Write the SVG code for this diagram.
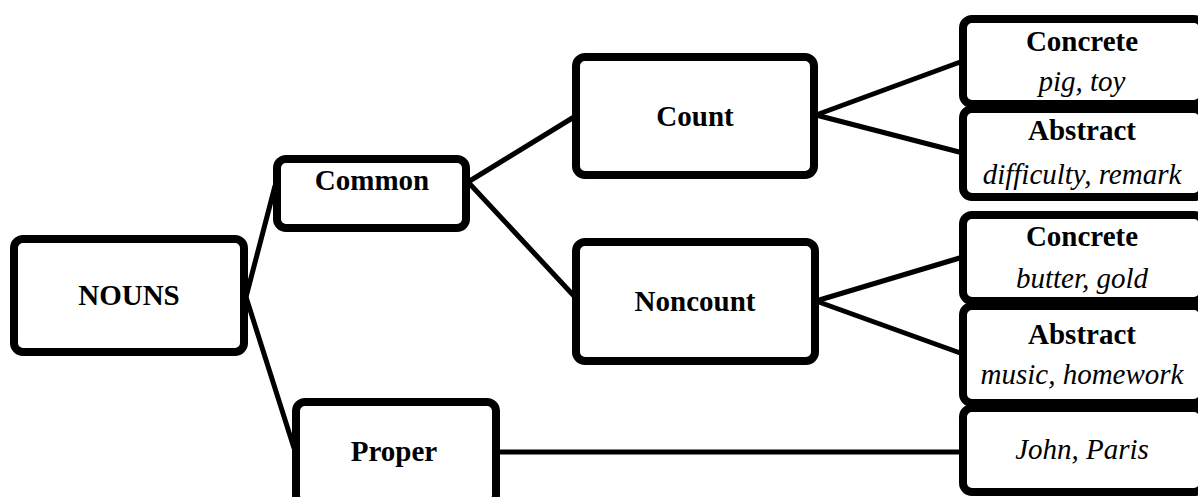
<svg xmlns="http://www.w3.org/2000/svg" width="1198" height="497" viewBox="0 0 1198 497">
<style>
.box{fill:#fff;stroke:#000;stroke-width:8}
.ln{stroke:#000;stroke-width:5;fill:none;stroke-linecap:round}
text{font-family:"Liberation Serif","Times New Roman",serif;font-size:29px;fill:#000;text-anchor:middle}
.b{font-weight:bold}
.i{font-style:italic}
</style>
<rect width="1198" height="497" fill="#fff"/>
<g id="connectors">
<line class="ln" x1="246" y1="297" x2="275" y2="186"/>
<line class="ln" x1="246" y1="297" x2="294" y2="448"/>
<line class="ln" x1="468" y1="182" x2="574" y2="117"/>
<line class="ln" x1="468" y1="182" x2="574" y2="296"/>
<line class="ln" x1="816" y1="115" x2="963" y2="61"/>
<line class="ln" x1="816" y1="115" x2="963" y2="153"/>
<line class="ln" x1="816" y1="301" x2="963" y2="257"/>
<line class="ln" x1="816" y1="301" x2="963" y2="354"/>
<line class="ln" x1="498" y1="452" x2="963" y2="452"/>
</g>
<g id="nouns"><rect class="box" x="14" y="239" width="230" height="113" rx="9"/><text class="b" x="129" y="305">NOUNS</text></g>
<g id="common"><rect class="box" x="277" y="159" width="189" height="69" rx="9"/><text class="b" x="372" y="190">Common</text></g>
<g id="proper"><rect class="box" x="296" y="402" width="200" height="102" rx="9"/><text class="b" x="394" y="461">Proper</text></g>
<g id="count"><rect class="box" x="576" y="57" width="238" height="118" rx="9"/><text class="b" x="695" y="126">Count</text></g>
<g id="noncount"><rect class="box" x="576" y="242" width="239" height="119" rx="9"/><text class="b" x="695" y="311">Noncount</text></g>
<g id="concrete1"><rect class="box" x="963" y="19" width="240" height="85" rx="9"/><text class="b" x="1082" y="51">Concrete</text><text class="i" x="1082" y="91">pig, toy</text></g>
<g id="abstract1"><rect class="box" x="963" y="109" width="240" height="88" rx="9"/><text class="b" x="1082" y="140">Abstract</text><text class="i" x="1082" y="184">difficulty, remark</text></g>
<g id="concrete2"><rect class="box" x="963" y="215" width="240" height="86" rx="9"/><text class="b" x="1082" y="246">Concrete</text><text class="i" x="1082" y="288">butter, gold</text></g>
<g id="abstract2"><rect class="box" x="963" y="306" width="240" height="97" rx="9"/><text class="b" x="1082" y="344">Abstract</text><text class="i" x="1082" y="384">music, homework</text></g>
<g id="john"><rect class="box" x="963" y="408" width="240" height="84" rx="9"/><text class="i" x="1082" y="459">John, Paris</text></g>
</svg>
